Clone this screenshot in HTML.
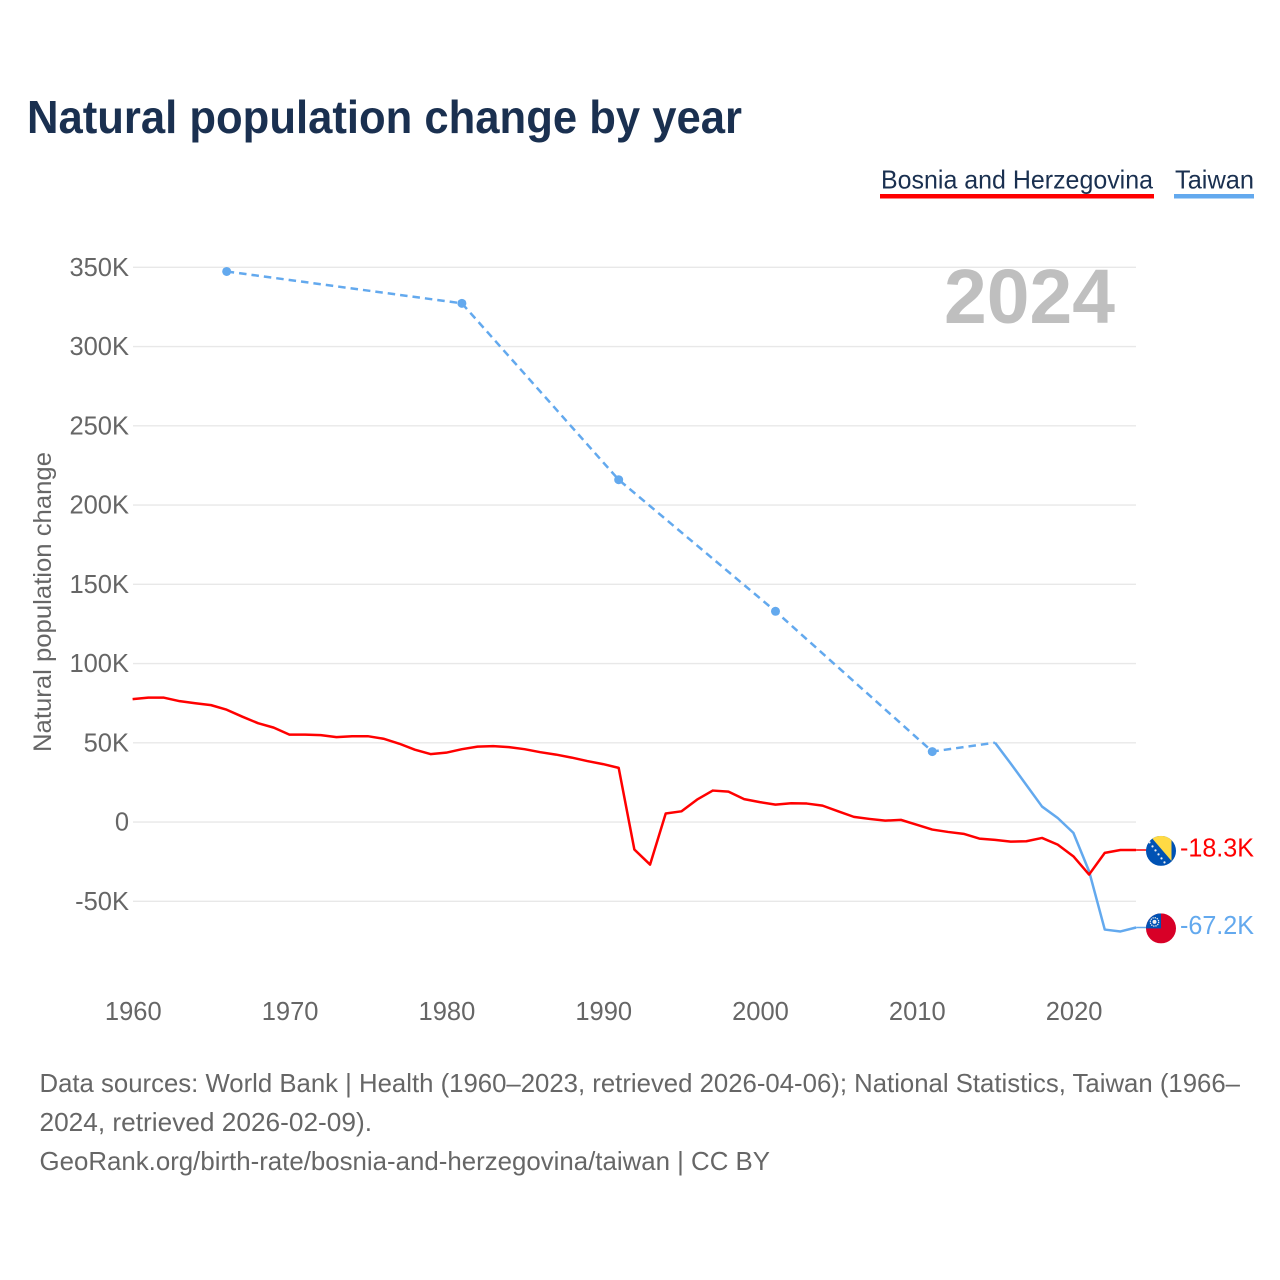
<!DOCTYPE html>
<html lang="en">
<head>
<meta charset="utf-8">
<title>Natural population change by year</title>
<style>
html,body{margin:0;padding:0;background:#fff}
svg{display:block;font-family:"Liberation Sans",sans-serif}
</style>
</head>
<body>
<svg id="chart" xmlns="http://www.w3.org/2000/svg" width="1280" height="1280" viewBox="0 0 1280 1280">
  <defs>
    <clipPath id="bih-clip"><circle cx="0" cy="0" r="15"/></clipPath>
    <clipPath id="tw-clip"><circle cx="0" cy="0" r="15"/></clipPath>
  </defs>
  <text x="27" y="133" font-size="46" font-weight="700" fill="#1a3050" textLength="715" lengthAdjust="spacingAndGlyphs">Natural population change by year</text>

  <text x="881" y="188.5" font-size="26" fill="#1a3050" textLength="272" lengthAdjust="spacingAndGlyphs">Bosnia and Herzegovina</text>
  <rect x="880" y="194" width="274" height="4.5" fill="#ff0000"/>
  <text x="1175" y="188.5" font-size="26" fill="#1a3050" textLength="79" lengthAdjust="spacingAndGlyphs">Taiwan</text>
  <rect x="1174" y="194" width="80" height="4.5" fill="#63a9ee"/>

  <g id="grid"></g>
  <g id="y-ticks"></g>
  <g id="x-ticks"></g>

  <text x="944" y="323" font-size="77" font-weight="700" fill="#bfbfbf" textLength="171" lengthAdjust="spacingAndGlyphs">2024</text>

  <text transform="translate(51 752) rotate(-90)" x="0" y="0" font-size="25" fill="#666666" textLength="300" lengthAdjust="spacingAndGlyphs">Natural population change</text>

  <g id="series"></g>
  <g id="end-markers"></g>

  <text x="39.5" y="1092" font-size="26" fill="#666666" textLength="1200.5" lengthAdjust="spacingAndGlyphs">Data sources: World Bank | Health (1960–2023, retrieved 2026-04-06); National Statistics, Taiwan (1966–</text>
  <text x="39.5" y="1131" font-size="26" fill="#666666" textLength="332.5" lengthAdjust="spacingAndGlyphs">2024, retrieved 2026-02-09).</text>
  <text x="39.5" y="1170" font-size="26" fill="#666666" textLength="730.5" lengthAdjust="spacingAndGlyphs">GeoRank.org/birth-rate/bosnia-and-herzegovina/taiwan | CC BY</text>
</svg>
<script>
var yTickValues = [350, 300, 250, 200, 150, 100, 50, 0, -50];
var yTickLabels = ["350K", "300K", "250K", "200K", "150K", "100K", "50K", "0", "-50K"];
var xTickYears = [1960, 1970, 1980, 1990, 2000, 2010, 2020];

var bosniaYears = [1960,1961,1962,1963,1964,1965,1966,1967,1968,1969,1970,1971,1972,1973,1974,1975,1976,1977,1978,1979,1980,1981,1982,1983,1984,1985,1986,1987,1988,1989,1990,1991,1992,1993,1994,1995,1996,1997,1998,1999,2000,2001,2002,2003,2004,2005,2006,2007,2008,2009,2010,2011,2012,2013,2014,2015,2016,2017,2018,2019,2020,2021,2022,2023,2024];
var bosniaValues = [77.6,78.5,78.5,76.3,75.0,73.8,70.9,66.5,62.4,59.6,55.2,55.2,54.9,53.6,54.2,54.2,52.6,49.5,45.7,42.9,43.8,46.0,47.6,47.9,47.3,46.0,44.1,42.6,40.7,38.5,36.6,34.2,-17.3,-26.8,5.4,6.8,14.2,19.9,19.2,14.5,12.6,11.0,11.9,11.7,10.4,6.8,3.3,2.0,0.9,1.4,-1.6,-4.7,-6.2,-7.4,-10.4,-11.2,-12.3,-12.1,-10.0,-14.2,-21.6,-33.1,-19.4,-17.6,-17.6];
var taiwanYears = [1966,1981,1991,2001,2011,2015,2016,2017,2018,2019,2020,2021,2022,2023,2024];
var taiwanValues = [347.4,327.3,216.0,133.0,44.5,50.1,37.0,23.4,9.8,2.6,-6.8,-31.0,-67.8,-69.0,-66.5];
var endLabels = ["-18.3K", "-67.2K"];

var SVG_NS = "http://www.w3.org/2000/svg";
function xScale(year) { return 132.6 + (year - 1960) * 15.68; }
function yScale(k) { return 822.1 - k * 1.585; }
function make(tag, attrs, parent) {
  var el = document.createElementNS(SVG_NS, tag);
  for (var key in attrs) { el.setAttribute(key, attrs[key]); }
  parent.appendChild(el);
  return el;
}

var grid = document.getElementById("grid");
var yTicks = document.getElementById("y-ticks");
var xTicks = document.getElementById("x-ticks");
var series = document.getElementById("series");
var markers = document.getElementById("end-markers");

yTickValues.forEach(function (v, i) {
  var py = yScale(v);
  var line = make("line", {x1: 133, x2: 1136, y1: py, y2: py, stroke: "#e8e8e8", "stroke-width": 1.4}, grid);
  
  
  var t = make("text", {x: 129, y: py + 8.5, "text-anchor": "end", "font-size": 25.5, fill: "#666666"}, yTicks);
  t.textContent = yTickLabels[i];
  
  
});

xTickYears.forEach(function (yr) {
  var t = make("text", {x: xScale(yr) + 0.7, y: 1020, "text-anchor": "middle", "font-size": 25.5, fill: "#666666"}, xTicks);
  t.textContent = String(yr);
  
  
});

function polyPath(years, values) {
  return years.map(function (yr, i) {
    return (i ? "L" : "M") + xScale(yr).toFixed(2) + " " + yScale(values[i]).toFixed(2);
  }).join(" ");
}

function drawSeries(years, values, colour, label) {
  var i = 0;
  while (i < years.length - 1) {
    var gap = years[i + 1] - years[i] > 1;
    var j = i + 1;
    while (j < years.length - 1 && (years[j + 1] - years[j] > 1) === gap) { j++; }
    var path = make("path", {
      d: polyPath(years.slice(i, j + 1), values.slice(i, j + 1)),
      fill: "none", stroke: colour, "stroke-width": 2.5, "stroke-linejoin": "round"
    }, series);
    if (gap) { path.setAttribute("stroke-dasharray", "7.5 5"); }
    
    
    path.setAttribute('aria-label', label);
    i = j;
  }
  years.forEach(function (yr, k) {
    var prevGap = k === 0 || yr - years[k - 1] > 1;
    var nextGap = k === years.length - 1 || years[k + 1] - yr > 1;
    if (prevGap && nextGap) {
      var dot = make("circle", {cx: xScale(yr), cy: yScale(values[k]), r: 4.5, fill: colour}, series);
      
      
    }
  });
}

drawSeries(taiwanYears, taiwanValues, "#63a9ee", "Taiwan");
drawSeries(bosniaYears, bosniaValues, "#ff0000", "Bosnia and Herzegovina");

function endConnector(year, value, colour) {
  var c = make("line", {x1: xScale(year), x2: 1150, y1: yScale(value), y2: yScale(value), stroke: colour, "stroke-width": 1.5}, series);
  
  
}
endConnector(2024, bosniaValues[bosniaValues.length - 1], "#ff0000");
endConnector(2024, taiwanValues[taiwanValues.length - 1], "#63a9ee");

function endLabel(text, value, colour) {
  var t = make("text", {x: 1180, y: yScale(value) + 6.5, "font-size": 26, fill: colour, textLength: 74, lengthAdjust: "spacingAndGlyphs"}, markers);
  t.textContent = text;
  
  
}
endLabel(endLabels[0], bosniaValues[bosniaValues.length - 1], "#ff0000");
endLabel(endLabels[1], taiwanValues[taiwanValues.length - 1], "#63a9ee");

// Bosnia flag
var bih = make("g", {transform: "translate(1161 " + (yScale(bosniaValues[bosniaValues.length - 1]) + 0.9) + ")", "clip-path": "url(#bih-clip)"}, markers);


make("rect", {x: -15, y: -15, width: 30, height: 30, fill: "#0052b4"}, bih);
make("polygon", {points: "-11,-15 10.5,-15 10.5,10", fill: "#ffda44"}, bih);
[[-12,-9],[-9,-5],[-6,-1],[-3,3],[0,7],[3,11]].forEach(function (s) {
  make("circle", {cx: s[0] + 0.5, cy: s[1] + 0.5, r: 1.1, fill: "#f0f0f0"}, bih);
});

// Taiwan flag
var tw = make("g", {transform: "translate(1161 " + (yScale(taiwanValues[taiwanValues.length - 1]) + 0.9) + ")", "clip-path": "url(#tw-clip)"}, markers);


make("rect", {x: -15, y: -15, width: 30, height: 30, fill: "#d80027"}, tw);
make("rect", {x: -15, y: -15, width: 15, height: 15, fill: "#0052b4"}, tw);
make("circle", {cx: -6.5, cy: -6.5, r: 4.2, fill: "none", stroke: "#f0f0f0", "stroke-width": 1.3, "stroke-dasharray": "1.3 0.9"}, tw);
make("circle", {cx: -6.5, cy: -6.5, r: 2, fill: "#f0f0f0"}, tw);
</script>
</body>
</html>
